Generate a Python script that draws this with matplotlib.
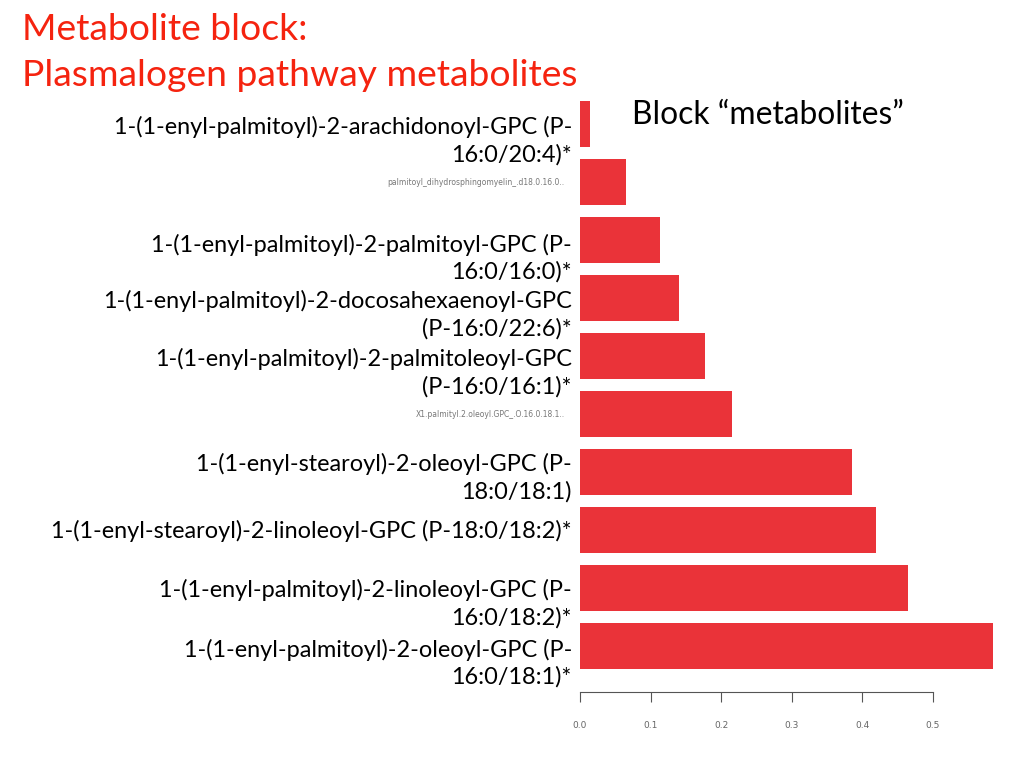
import matplotlib.pyplot as plt
import matplotlib.transforms as mtransforms

# metabolites, top to bottom, with the bar values
labels = [
    "1-(1-enyl-palmitoyl)-2-arachidonoyl-GPC (P-\n16:0/20:4)*",
    "",
    "1-(1-enyl-palmitoyl)-2-palmitoyl-GPC (P-\n16:0/16:0)*",
    "1-(1-enyl-palmitoyl)-2-docosahexaenoyl-GPC\n(P-16:0/22:6)*",
    "1-(1-enyl-palmitoyl)-2-palmitoleoyl-GPC\n(P-16:0/16:1)*",
    "",
    "1-(1-enyl-stearoyl)-2-oleoyl-GPC (P-\n18:0/18:1)",
    "1-(1-enyl-stearoyl)-2-linoleoyl-GPC (P-18:0/18:2)*",
    "1-(1-enyl-palmitoyl)-2-linoleoyl-GPC (P-\n16:0/18:2)*",
    "1-(1-enyl-palmitoyl)-2-oleoyl-GPC (P-\n16:0/18:1)*",
]
small_labels = [
    "", "palmitoyl_dihydrosphingomyelin_.d18.0.16.0..", "", "", "",
    "X1.palmityl.2.oleoyl.GPC_.O.16.0.18.1..", "", "", "", "",
]
values = [0.014, 0.065, 0.113, 0.140, 0.177, 0.215, 0.385, 0.419, 0.465, 0.585]
xticks = [0.0, 0.1, 0.2, 0.3, 0.4, 0.5]

# the slide text sits a little below each bar
label_shift = [0.29, 0, 0.32, 0.29, 0.29, 0, 0.1, 0.01, 0.27, 0.3]

red = '#EA3339'
title_red = '#F5230F'
font = 'Lato'

fig = plt.figure(figsize=(10.24, 7.68), dpi=100)
ax = fig.add_axes([580 / 1024, 76 / 768, 423.6 / 1024, 597 / 768])

pos = list(range(len(values)))
ax.barh(pos, values, height=0.8, color=red)
ax.set_xlim(0, 0.6)
ax.set_ylim(9.793, -0.5)

for s in ['top', 'right', 'left']:
    ax.spines[s].set_visible(False)
ax.spines['bottom'].set_bounds(0, 0.5)
ax.spines['bottom'].set_color('#555555')
ax.set_yticks([])
ax.set_xticks(xticks)
ax.set_xticklabels([f"{t:.1f}" for t in xticks])
ax.tick_params(axis='x', direction='out', length=7, color='#555555',
               labelsize=6.5, labelcolor='#666666', pad=14)

trans = mtransforms.blended_transform_factory(ax.transAxes, ax.transData)
for i, lab in enumerate(labels):
    if lab:
        ax.text(-0.019, i + label_shift[i], lab, transform=trans, ha='right',
                va='center', fontsize=16.9, family=font, linespacing=1.3)
for i, lab in enumerate(small_labels):
    if lab:
        ax.text(-0.036, i, lab, transform=trans, ha='right', va='center',
                fontsize=5.5, color='#777777')

fig.text(22 / 1024, 1 - 30 / 768, "Metabolite block:", color=title_red,
         fontsize=26.8, family=font, va='center', ha='left')
fig.text(22 / 1024, 1 - 76 / 768, "Plasmalogen pathway metabolites",
         color=title_red, fontsize=26.8, family=font, va='center', ha='left')
fig.text(632 / 1024, 1 - 115 / 768, "Block \u201cmetabolites\u201d",
         fontsize=22.9, family=font, va='center', ha='left')

fig.savefig('out.png', dpi=100)
